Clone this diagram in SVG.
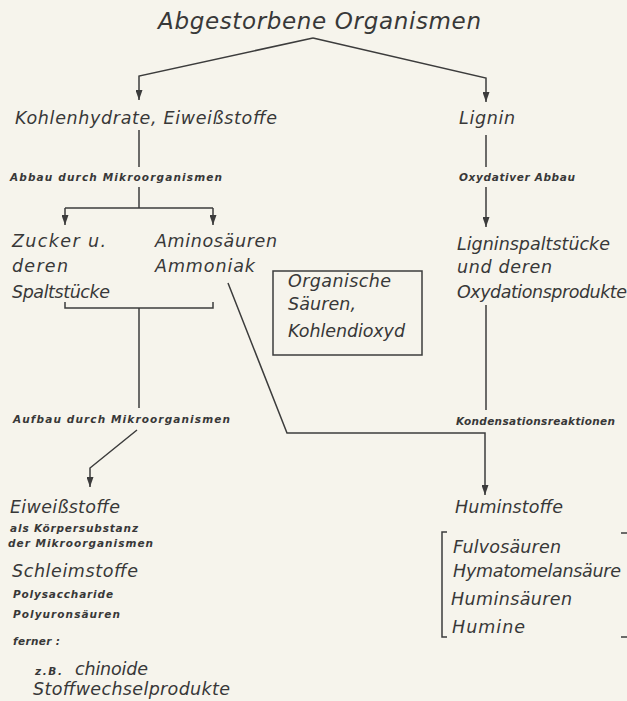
<svg xmlns="http://www.w3.org/2000/svg" width="627" height="701" viewBox="0 0 627 701">
<defs>
<marker id="ah" markerUnits="userSpaceOnUse" markerWidth="11" markerHeight="7" refX="10" refY="3.5" orient="auto">
<path d="M0,0 L10,3.5 L0,7 z" fill="#3c3c3c"/>
</marker>
<style>
text{font-family:"DejaVu Sans","Liberation Sans",sans-serif;font-style:italic;fill:#383838}
.t{font-size:23px}
.m{font-size:17.5px}
.s{font-size:10.5px;font-weight:bold}
.c{fill:none;stroke:#3c3c3c;stroke-width:1.5}
.a{fill:none;stroke:#3c3c3c;stroke-width:1.5;marker-end:url(#ah)}
</style>
</defs>
<rect width="627" height="701" fill="#f6f4ec"/>
<g id="connectors">
<path class="a" d="M313,38 L139,76 L139,100"/>
<path class="a" d="M313,38 L486,78 L486,102"/>
<path class="c" d="M139,130 L139,167"/>
<path class="c" d="M139,187 L139,208 M65,208 L213,208"/>
<path class="a" d="M65,208 L65,225"/>
<path class="a" d="M213,208 L213,225"/>
<path class="c" d="M486,135 L486,167"/>
<path class="a" d="M486,187 L486,227"/>
<path class="c" d="M65,302 L65,308 L213,308 L213,302 M139,308 L139,408"/>
<path class="a" d="M137,430 L90,468 L90,487"/>
<path class="a" d="M228,283 L287,433 L485,433 L485,495"/>
<path class="c" d="M486,305 L486,410"/>
<path class="c" d="M447,532 L442,532 L442,637 L447,637 M621,533 L627,533 M621,637 L627,637"/>
</g>
<g id="title"><text class="t" x="158" y="29" textLength="323" lengthAdjust="spacing">Abgestorbene  Organismen</text></g>
<g id="kohlenhydrate"><text class="m" x="15" y="124" textLength="262" lengthAdjust="spacing">Kohlenhydrate, Eiweißstoffe</text></g>
<g id="lignin"><text class="m" x="459" y="124" textLength="56" lengthAdjust="spacing">Lignin</text></g>
<g id="abbau"><text class="s" x="10" y="181" textLength="212" lengthAdjust="spacing">Abbau  durch  Mikroorganismen</text></g>
<g id="oxydativ"><text class="s" x="459" y="181" textLength="116" lengthAdjust="spacing">Oxydativer   Abbau</text></g>
<g id="zucker">
<text class="m" x="12" y="247" textLength="94" lengthAdjust="spacing">Zucker u.</text>
<text class="m" x="12" y="272" textLength="56" lengthAdjust="spacing">deren</text>
<text class="m" x="12" y="298" textLength="98" lengthAdjust="spacing">Spaltstücke</text>
</g>
<g id="aminosaeuren">
<text class="m" x="155" y="247" textLength="122" lengthAdjust="spacing">Aminosäuren</text>
<text class="m" x="155" y="272" textLength="100" lengthAdjust="spacing">Ammoniak</text>
</g>
<g id="ligninspalt">
<text class="m" x="457" y="250" textLength="153" lengthAdjust="spacing">Ligninspaltstücke</text>
<text class="m" x="457" y="273" textLength="95" lengthAdjust="spacing">und deren</text>
<text class="m" x="457" y="298" textLength="170" lengthAdjust="spacing">Oxydationsprodukte</text>
</g>
<g id="organische">
<rect x="273" y="271" width="149" height="84" fill="none" stroke="#3c3c3c" stroke-width="1.5"/>
<text class="m" x="288" y="287" textLength="103" lengthAdjust="spacing">Organische</text>
<text class="m" x="288" y="310" textLength="68" lengthAdjust="spacing">Säuren,</text>
<text class="m" x="288" y="337" textLength="117" lengthAdjust="spacing">Kohlendioxyd</text>
</g>
<g id="aufbau"><text class="s" x="13" y="423" textLength="217" lengthAdjust="spacing">Aufbau  durch  Mikroorganismen</text></g>
<g id="kondensation"><text class="s" x="456" y="425" textLength="159" lengthAdjust="spacing">Kondensationsreaktionen</text></g>
<g id="eiweiss">
<text class="m" x="10" y="513" textLength="110" lengthAdjust="spacing">Eiweißstoffe</text>
<text class="s" x="10" y="532" textLength="128" lengthAdjust="spacing">als Körpersubstanz</text>
<text class="s" x="8" y="547" textLength="145" lengthAdjust="spacing">der Mikroorganismen</text>
</g>
<g id="schleim">
<text class="m" x="12" y="577" textLength="126" lengthAdjust="spacing">Schleimstoffe</text>
<text class="s" x="13" y="598" textLength="100" lengthAdjust="spacing">Polysaccharide</text>
<text class="s" x="13" y="618" textLength="107" lengthAdjust="spacing">Polyuronsäuren</text>
</g>
<g id="ferner">
<text class="s" x="13" y="645" textLength="47" lengthAdjust="spacing">ferner :</text>
<text class="s" x="35" y="675" textLength="27" lengthAdjust="spacing">z.B.</text>
<text class="m" x="75" y="675" textLength="73" lengthAdjust="spacing">chinoide</text>
<text class="m" x="33" y="695" textLength="197" lengthAdjust="spacing">Stoffwechselprodukte</text>
</g>
<g id="huminstoffe">
<text class="m" x="455" y="513" textLength="108" lengthAdjust="spacing">Huminstoffe</text>
<text class="m" x="453" y="553" textLength="108" lengthAdjust="spacing">Fulvosäuren</text>
<text class="m" x="453" y="577" textLength="168" lengthAdjust="spacing">Hymatomelansäure</text>
<text class="m" x="451" y="605" textLength="121" lengthAdjust="spacing">Huminsäuren</text>
<text class="m" x="452" y="633" textLength="73" lengthAdjust="spacing">Humine</text>
</g>
</svg>
